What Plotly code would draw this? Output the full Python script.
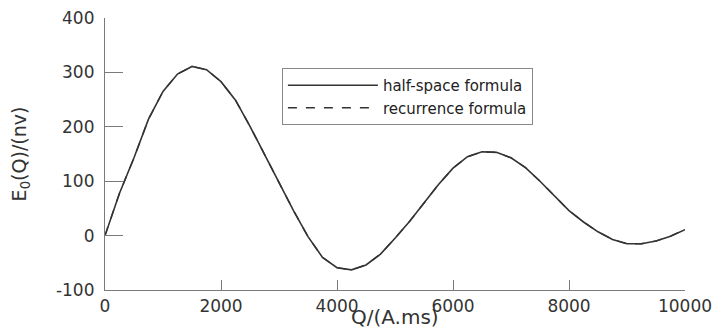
import plotly.graph_objects as go

Q = [0, 250, 500, 750, 1000, 1250, 1500, 1750, 2000, 2250, 2500, 2750, 3000, 3250,
     3500, 3750, 4000, 4250, 4500, 4750, 5000, 5250, 5500, 5750, 6000, 6250, 6500,
     6750, 7000, 7250, 7500, 7750, 8000, 8250, 8500, 8750, 9000, 9250, 9500, 9750, 10000]
E_half = [0, 78, 143, 214, 265, 297, 311, 305, 283, 249, 201, 149, 95, 46,
          -2, -40, -59, -63, -54, -34, -5, 26, 60, 94, 124, 145, 154,
          153, 143, 125, 100, 73, 46, 25, 7, -7, -15, -15, -10, -1, 11]
E_rec = [0, 78, 143, 214, 265, 297, 311, 305, 283, 249, 201, 149, 95, 46,
         -2, -40, -59, -63, -54, -34, -5, 26, 60, 94, 124, 145, 154,
         153, 143, 125, 100, 73, 46, 25, 7, -7, -15, -15, -10, -1, 11]

x_ticks = [0, 2000, 4000, 6000, 8000, 10000]
x_labels = ["0", "2000", "4000", "6000", "8000", "10000"]
y_ticks = [-100, 0, 100, 200, 300, 400]
y_labels = ["-100", "0", "100", "200", "300", "400"]

FONT = "DejaVu Sans"
AX = "#7a7a7a"

fig = go.Figure()
fig.add_trace(go.Scatter(x=Q, y=E_half, mode="lines", name="half-space formula",
                         line=dict(color="#333333", width=1.6)))
fig.add_trace(go.Scatter(x=Q, y=E_rec, mode="lines", name="recurrence formula",
                         line=dict(color="#333333", width=1.4, dash="dash")))

fig.update_layout(
    width=720, height=330,
    margin=dict(l=97, r=43, t=10, b=48),
    paper_bgcolor="white", plot_bgcolor="white",
    font=dict(family=FONT, size=16, color="#333333"),
    showlegend=True,
    legend=dict(x=0.305, y=0.816, xanchor="left", yanchor="top",
                bordercolor="#888888", borderwidth=1, bgcolor="white",
                font=dict(family=FONT, size=15, color="#222222"),
                itemwidth=90, tracegroupgap=0),
    xaxis=dict(range=[0, 10000], tickvals=x_ticks, ticktext=x_labels,
               ticks="inside", ticklen=10, automargin=False,
               tickcolor=AX, showline=True, linecolor=AX, linewidth=1.2,
               showgrid=False, zeroline=False, mirror=False,
               ticklabeloverflow="allow", tickfont=dict(size=17)),
    yaxis=dict(range=[-100, 400], tickvals=y_ticks, ticktext=y_labels,
               ticks="inside", ticklen=18, automargin=False, ticklabelstandoff=6,
               tickcolor=AX, showline=True, linecolor=AX, linewidth=1.2,
               showgrid=False, zeroline=False, mirror=False,
               ticklabeloverflow="allow",
               title=dict(text="E<sub>0</sub>(Q)/(nv)", standoff=27, font=dict(size=19)),
               tickfont=dict(size=17)),
    annotations=[dict(text="Q/(A.ms)", xref="paper", yref="paper", x=0.5, y=-0.098,
                      xanchor="center", yanchor="middle", showarrow=False,
                      font=dict(family=FONT, size=20, color="#333333"))],
)

fig.write_html("out.html")
